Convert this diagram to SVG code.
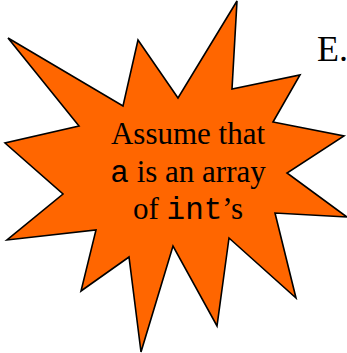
<svg xmlns="http://www.w3.org/2000/svg" width="347" height="353" viewBox="0 0 347 353">
<style>
.star{fill:#FF6600;stroke:#000;stroke-width:1.6;stroke-linejoin:miter}
</style>
<rect width="347" height="353" fill="#fff"/>
<g id="title">
<text x="317" y="61" font-family="Liberation Serif, Times New Roman, serif" font-size="36" fill="#000">E.</text>
</g>
<g id="starburst">
<polygon class="star" points="8,38 123,106 138,40 178,98 237,1 232,89 300,75 273,122 344,136 287,173 347,217 275,213 296,298 229,238 217,326 173,246 141,352 129,257 81,291 96,230 7,240 63,194 5,143 79,126"/>
<text font-family="Liberation Serif, Times New Roman, serif" font-size="31" fill="#000" text-anchor="middle"><tspan x="188" y="144">Assume that</tspan><tspan x="188" y="181.5"><tspan font-family="Liberation Mono, Courier New, monospace">a</tspan> is an array</tspan><tspan x="188" y="219">of <tspan font-family="Liberation Mono, Courier New, monospace">int</tspan>’s</tspan></text>
</g>
</svg>
